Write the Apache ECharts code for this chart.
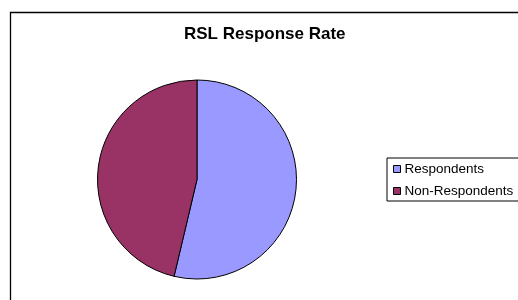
<!DOCTYPE html>
<html>
<head>
<meta charset="utf-8">
<script src="https://cdn.jsdelivr.net/npm/echarts@6/dist/echarts.min.js"></script>
<style>
html,body{margin:0;padding:0;background:#fff;}
#chart{width:518px;height:300px;}
</style>
</head>
<body>
<div id="chart"></div>
<script>
const titleText = 'RSL Response Rate';
const categories = ['Respondents', 'Non-Respondents'];
const values = [53.7, 46.3];
const colors = ['#9999FF', '#993366'];

const chart = echarts.init(document.getElementById('chart'), null, {renderer: 'canvas'});
chart.setOption({
  animation: false,
  backgroundColor: '#ffffff',
  title: {
    text: titleText,
    left: 179,
    top: 21,
    textStyle: {fontFamily: 'Liberation Sans, Arial, sans-serif', fontSize: 17, fontWeight: 'bold', color: '#000'}
  },
  legend: {
    orient: 'vertical',
    left: 387,
    top: 158,
    data: categories,
    icon: 'rect',
    itemWidth: 7,
    itemHeight: 7,
    itemGap: 6,
    backgroundColor: '#fff',
    borderColor: '#000',
    borderWidth: 1,
    borderRadius: 0,
    padding: [3, 6, 2, 6],
    itemStyle: {borderColor: '#000', borderWidth: 1},
    textStyle: {fontFamily: 'Liberation Sans, Arial, sans-serif', fontSize: 13.5, color: '#000', lineHeight: 16, padding: [0, 0, 0, -1]},
    selectedMode: false
  },
  graphic: [{
    type: 'rect',
    shape: {x: 10.5, y: 12.5, width: 530, height: 320},
    style: {fill: 'none', stroke: '#000', lineWidth: 1.3},
    z: -1
  }],
  series: [{
    type: 'pie',
    center: [197, 179.5],
    radius: 99.5,
    startAngle: 90,
    clockwise: true,
    label: {show: false},
    labelLine: {show: false},
    emphasis: {disabled: true},
    itemStyle: {borderColor: '#000', borderWidth: 1},
    data: categories.map((c, i) => ({name: c, value: values[i], itemStyle: {color: colors[i]}}))
  }]
});
</script>
</body>
</html>
